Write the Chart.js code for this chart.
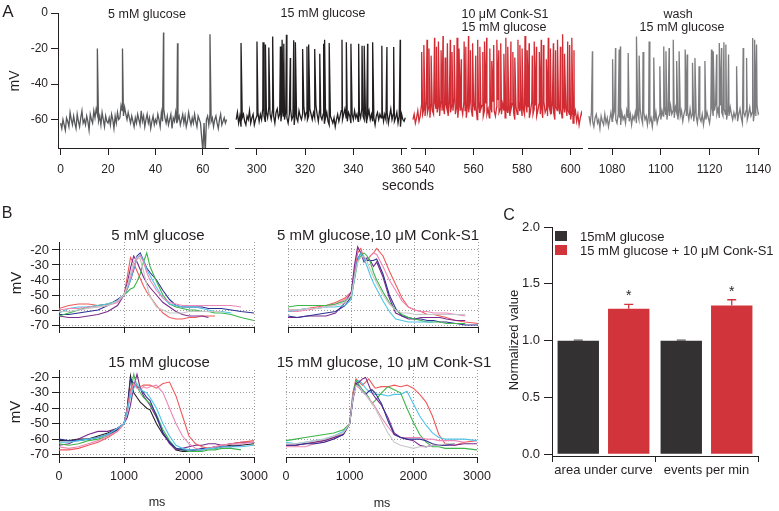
<!DOCTYPE html>
<html><head><meta charset="utf-8">
<script src="https://cdn.jsdelivr.net/npm/chart.js@4.4.1/dist/chart.umd.min.js"></script>
<style>
html,body{margin:0;padding:0;background:#fff}
#wrap{position:relative;width:779px;height:511px;overflow:hidden;font-family:'Liberation Sans',Arial,Helvetica,sans-serif;color:#231f20}
#wrap canvas{position:absolute;left:0;top:0}
.lb{position:absolute;white-space:nowrap;line-height:1;transform:translate(-50%,-50%)}
.rot{transform:translate(-50%,-50%) rotate(-90deg)}
.lg{position:absolute;white-space:nowrap;line-height:1;font-size:13px;transform:translateY(-50%)}
.sw{position:absolute;width:12px;height:10px}
</style></head><body><div id="wrap">
<canvas id="cA1" width="779" height="511"></canvas>
<canvas id="cA2" width="779" height="511"></canvas>
<canvas id="cA3" width="779" height="511"></canvas>
<canvas id="cA4" width="779" height="511"></canvas>
<canvas id="cB1" width="779" height="511"></canvas>
<canvas id="cB2" width="779" height="511"></canvas>
<canvas id="cB3" width="779" height="511"></canvas>
<canvas id="cB4" width="779" height="511"></canvas>
<canvas id="cC" width="779" height="511"></canvas>

<div class="lb" style="left:8px;top:11px;font-size:17px">A</div>
<div class="lb" style="left:147px;top:14px;font-size:12.5px">5 mM glucose</div>
<div class="lb" style="left:323px;top:13px;font-size:12.5px">15 mM glucose</div>
<div class="lb" style="left:505px;top:14px;font-size:12.5px">10 μM Conk-S1</div>
<div class="lb" style="left:504px;top:27px;font-size:12.5px">15 mM glucose</div>
<div class="lb" style="left:678px;top:14px;font-size:12.5px">wash</div>
<div class="lb" style="left:682px;top:27px;font-size:12.5px">15 mM glucose</div>
<div class="lb rot" style="left:14px;top:81px;font-size:14px">mV</div>
<div class="lb" style="left:408px;top:185px;font-size:14px">seconds</div>

<div class="lb" style="left:7px;top:213px;font-size:16px">B</div>
<div class="lb" style="left:158px;top:234px;font-size:15px">5 mM glucose</div>
<div class="lb" style="left:378px;top:234px;font-size:15px">5 mM glucose,10 μM Conk-S1</div>
<div class="lb" style="left:159px;top:361px;font-size:15px">15 mM glucose</div>
<div class="lb" style="left:384px;top:361px;font-size:15px">15 mM glucose, 10 μM Conk-S1</div>
<div class="lb rot" style="left:15px;top:283px;font-size:15px">mV</div>
<div class="lb rot" style="left:14px;top:412px;font-size:15px">mV</div>
<div class="lb" style="left:157px;top:502px;font-size:12.5px">ms</div>
<div class="lb" style="left:382px;top:503px;font-size:12.5px">ms</div>

<div class="lb" style="left:509px;top:215px;font-size:16px">C</div>
<div class="lb rot" style="left:513px;top:340px;font-size:13px">Normalized value</div>
<div id="legend"></div>
</div>
<script>
// ================= DATA =================
// ---- Panel A: membrane potential traces (mV), baseline sampled every 0.5 s, plus spike peaks ----
const aXTicks1 = [0, 20, 40, 60];
const aXTicks2 = [300, 320, 340, 360];
const aXTicks3 = [540, 560, 580, 600];
const aXTicks4 = [1080, 1100, 1120, 1140];
const aYTicks = [0, -20, -40, -60];
const aSampleStep = 0.5;

const a1Start = 0;
const a1Base = [
 -62,-65,-60,-63,-66,-59,-61,-64,-56,-60,-63,-58,-62,-65,-57,-61,-64,-59,-55,-62,-60,
 -63,-58,-61,-66,-57,-60,-62,-55,-59,-54,-57,-61,-58,-63,-56,-60,-64,-58,-61,-62,
 -59,-63,-57,-60,-65,-58,-62,-56,-60,-59,-52,-55,-58,-53,-57,-60,-56,-59,-62,-58,
 -61,-64,-59,-62,-57,-60,-63,-55,-61,-58,-64,-60,-57,-62,-59,-65,-61,-58,-63,-60,
 -62,-57,-60,-64,-56,-61,-54,-59,-62,-58,-63,-60,-57,-65,-59,-61,-56,-62,-60,-58,
 -63,-60,-57,-62,-58,-64,-61,-56,-60,-63,-59,-62,-57,-61,-64,-58,-60,-62,-70,-78,
 -62,-79,-60,-58,-63,-57,-61,-59,-64,-60,-58,-62,-65,-60,-57,-63,-61,-59,-62,-60];
const a1SpikeT = [15.5, 26.1, 43.4, 49.3, 63.0];
const a1SpikeV = [-20, -20, -11, -17, -12];

const a2Start = 291.5;
const a2Base = [
 -60,-56,-62,-58,-64,-59,-57,-61,-63,-58,-60,-55,-62,-59,-57,-63,-60,-58,-56,-61,
 -57,-60,-54,-58,-61,-56,-59,-53,-57,-60,-55,-58,-62,-56,-54,-59,-57,-61,-55,-58,
 -60,-56,-59,-62,-57,-54,-60,-58,-63,-56,-59,-61,-55,-58,-60,-57,-53,-59,-56,-60,
 -58,-54,-57,-60,-56,-59,-52,-57,-61,-55,-58,-60,-57,-62,-59,-56,-61,-63,-58,-60,
 -62,-59,-64,-60,-57,-61,-58,-55,-60,-57,-54,-59,-61,-56,-58,-62,-57,-60,-55,-59,
 -57,-61,-56,-59,-54,-58,-60,-56,-62,-58,-55,-60,-57,-61,-59,-63,-58,-56,-60,-57,
 -59,-55,-61,-57,-60,-56,-62,-58,-54,-60,-57,-61,-59,-56,-62,-58,-64,-57,-60,-61,
 -59];
const a2SpikeT = [293.5,300.1,302.6,303.6,305.0,306.6,309.8,310.5,311.2,312.3,313.9,315.3,316.0,319.0,320.8,321.5,324.0,326.1,327.7,328.1,330.0,335.3,337.1,339.0,342.2,343.6,344.5,345.9,348.0,351.8,353.9,356.7,359.4];
const a2SpikeV = [-16.9,-16.0,-16.5,-17.8,-19.4,-13.2,-18.8,-15.0,-17.3,-12.2,-25.3,-15.4,-16.5,-20.3,-18.8,-17.8,-20.3,-22.9,-17.3,-15.0,-16.9,-15.0,-16.5,-17.3,-17.3,-18.4,-18.4,-17.3,-16.5,-18.4,-19.1,-19.1,-15.0];

const a3Start = 535;
const a3Base = [
 -60,-57,-62,-59,-55,-61,-58,-52,-57,-54,-58,-50,-56,-53,-59,-51,-55,-57,-50,-54,
 -56,-52,-58,-49,-55,-53,-57,-51,-54,-58,-50,-56,-52,-55,-48,-57,-53,-59,-51,-55,
 -53,-57,-50,-55,-59,-52,-56,-49,-54,-58,-51,-55,-53,-60,-50,-56,-54,-52,-58,-55,
 -51,-57,-54,-59,-52,-56,-50,-55,-58,-53,-49,-56,-54,-57,-51,-55,-59,-52,-56,-53,
 -58,-54,-51,-56,-60,-53,-57,-50,-55,-52,-58,-54,-57,-51,-56,-53,-59,-55,-50,-57,
 -54,-52,-58,-55,-51,-57,-53,-59,-50,-56,-54,-58,-52,-55,-57,-51,-56,-60,-53,-55,
 -52,-57,-54,-59,-51,-56,-53,-58,-55,-57,-60,-56,-62,-58,-55,-61,-57,-63,-59,-56,
 -58];
const a3SpikeT = [
 538.6,539.5,540.8,541.6,542.5,543.9,544.7,545.5,546.6,547.4,
 548.3,549.2,550.4,551.1,552.0,553.2,554.0,554.9,556.1,556.8,
 557.9,558.7,559.6,560.9,561.7,562.6,563.8,564.5,565.4,566.7,
 567.5,568.3,569.6,570.4,571.2,572.5,573.3,574.1,575.4,576.2,
 577.0,578.3,579.1,580.0,581.2,582.1,582.9,584.2,585.0,585.9,
 587.1,587.9,588.8,590.0,590.8,591.7,592.9,593.8,594.6,595.8,
 596.7,597.5,598.8,599.6,600.5,601.4];
const a3SpikeV = [
 -22,-18,-15,-20,-24,-14,-19,-16,-21,-13,
 -25,-17,-15,-22,-18,-14,-20,-26,-16,-19,
 -13,-21,-17,-24,-15,-19,-22,-16,-14,-20,
 -27,-18,-15,-21,-17,-23,-14,-19,-16,-22,
 -25,-15,-18,-20,-13,-21,-17,-24,-16,-19,
 -22,-15,-18,-26,-14,-20,-17,-21,-15,-19,
 -12,-23,-16,-18,-14,-21];

const a4Start = 1070.5;
const a4Base = [
 -58,-62,-56,-61,-64,-59,-57,-62,-60,-65,-58,-61,-63,-57,-62,-59,-64,-60,-56,-61,
 -58,-55,-60,-62,-57,-59,-63,-56,-60,-58,-62,-55,-59,-61,-57,-63,-58,-60,-56,-62,
 -57,-60,-54,-59,-62,-56,-60,-58,-63,-57,-61,-59,-64,-58,-61,-56,-62,-59,-57,-60,
 -55,-58,-53,-57,-60,-54,-58,-52,-57,-55,-59,-53,-56,-60,-54,-58,-55,-61,-57,-54,
 -58,-56,-60,-54,-59,-57,-61,-55,-58,-62,-56,-59,-61,-57,-63,-58,-60,-56,-59,-62,
 -56,-53,-58,-55,-51,-57,-54,-59,-52,-56,-58,-54,-57,-60,-55,-58,-53,-57,-60,-56,
 -59,-56,-61,-57,-54,-59,-62,-56,-58,-55,-60,-57,-53,-58,-56,-61,-55,-58,-52,-57,
 -56];
const a4SpikeT = [1071.9,1080.2,1081.4,1082.9,1083.4,1086.6,1090.0,1091.1,1092.7,1095.2,1097.1,1099.6,1101.2,1102.1,1103.4,1105.1,1106.5,1107.5,1110.0,1110.8,1113.0,1114.0,1115.7,1118.1,1120.8,1121.5,1122.9,1124.0,1124.9,1125.9,1126.7,1127.8,1131.1,1133.8,1135.2,1137.7,1138.5,1139.3];
const a4SpikeV = [-21.6,-26,-19.7,-20.6,-18.8,-22.5,-13.2,-24,-22,-16,-25,-30,-18.8,-21.6,-19.7,-15,-27,-21.6,-20.6,-23.4,-28,-25.3,-30,-27,-20.6,-21.6,-23.4,-16.9,-19.7,-16.5,-17.8,-23.4,-30,-19.7,-25.3,-14.1,-15,-17.8];

// ---- Panel B: overlaid events (mV) on a common ms grid ----
const bXTicks = [0, 1000, 2000, 3000];
const bYTicks = [-20, -30, -40, -50, -60, -70];
const msGrid = [0,150,300,450,600,750,900,1000,1050,1100,1150,1200,1250,1300,1350,1400,1500,1600,1700,1800,1900,2000,2100,2200,2300,2400,2500,2650,2800,3000];

// 5 mM glucose
const b1Blue   = [-63,-63,-62,-61,-60,-57,-53,-50,-46,-40, -33,-24,-22,-27,-32,-35,-40,-47,-53,-57, -58,-58,-58,-58,-59,-59,-59,-60,-61,-62];
const b1Purple = [-64,-65,-65,-64,-63,-61,-57,-50,-42,-32, -24,-28,-33,-38,-42,-45,-50,-55,-58,-61, -63,-64,-64,-64,-65,null,null,null,null,null];
const b1Salmon = [-59,-57,-56,-56,-57,-56,-54,-50,-38,-25, -29,-34,-39,-44,-48,-51,-57,-62,-65,-66, -66,-65,-65,-64,-64,-64,null,null,null,null];
const b1Green  = [-64,-62,-60,-58,-57,-56,-54,-50,-48,-46, -45,-41,-36,-28,-22,-31,-41,-50,-56,-58, -59,-60,-60,-61,-61,-62,-62,-63,-65,-67];
const b1Cyan   = [-62,-59,-58,-58,-57,-56,-54,-50,-46,-40, -32,-26,-23,-27,-33,-37,-45,-52,-56,-57, -58,-58,-58,-59,-60,-61,-61,-62,null,null];
const b1Gray   = [-61,-61,-60,-59,-58,-57,-54,-50,-44,-36, -28,-25,-26,-34,-43,-51,-58,-60,-62,-62, -62,-61,-61,-61,-61,-61,-61,null,null,null];
const b1Pink   = [-60,-59,-59,-58,-58,-57,-55,-50,-45,-38, -31,-26,-24,-28,-35,-40,-47,-52,-55,-56, -57,-57,-57,-57,-57,-57,-57,-57,-58,null];
// 5 mM glucose, 10 uM Conk-S1
const b2Purple = [-65,-65,-64,-64,-64,-62,-55,-48,-30,-18, -22,-28,-25,-27,-31,-28,-38,-52,-62,-64, -66,-66,-65,-65,-65,-65,-66,-67,-67,null];
const b2Salmon = [-60,-60,-59,-58,-57,-55,-52,-48,-34,-22, -19,-26,-27,-24,-22,-19,-24,-34,-43,-52, -58,-60,-61,-63,-63,-64,-65,-67,-68,-69];
const b2Pink   = [-61,-61,-60,-59,-58,-56,-53,-48,-33,-18, -22,-26,-27,-24,-22,-23,-31,-40,-47,-54, -58,-60,-61,-61,-62,-62,-62,-63,-64,null];
const b2Blue   = [-64,-65,-64,-63,-62,-61,-57,-51,-38,-26, -22,-25,-27,-27,-27,-26,-36,-50,-59,-64, -65,-66,-66,-67,-67,-68,-68,-69,-70,-70];
const b2Green  = [-58,-57,-57,-57,-57,-56,-54,-51,-40,-28, -24,-22,-24,-28,-35,-40,-48,-55,-60,-63, -65,-66,-67,-68,-68,-68,-69,-69,-69,null];
const b2Cyan   = [-61,-60,-59,-59,-58,-58,-57,-53,-38,-27, -22,-26,-31,-37,-42,-46,-54,-61,-66,-67, -68,-68,-68,-68,-68,null,null,null,null,null];
const b2Gray   = [-60,-60,-59,-59,-58,-57,-55,-50,-38,-28, -25,-24,-28,-33,-38,-42,-50,-56,-60,-62, -62,-63,-63,-63,-63,-63,-63,-63,-63,null];
// 15 mM glucose
const b3Black  = [-61,-61,-60,-60,-58,-56,-53,-50,-40,-19, -30,-33,-36,-38,-40,-41,-50,-57,-62,-67, -68,-68,-67,-67,-66,-66,-65,-64,-64,-63];
const b3Purple = [-64,-63,-60,-57,-55,-55,-53,-50,-46,-38, -26,-18,-27,-32,-35,-38,-46,-56,-63,-67, -66,-65,-64,-64,-63,-63,-64,-63,-62,-62];
const b3Green  = [-63,-64,-63,-61,-60,-58,-54,-50,-42,-30, -18,-26,-30,-33,-35,-37,-44,-54,-61,-66, -67,-68,-68,-68,-67,-67,-66,-66,-67,null];
const b3Blue   = [-60,-61,-61,-60,-59,-57,-54,-50,-40,-21, -24,-26,-27,-30,-33,-35,-45,-56,-62,-66, -67,-67,-67,-66,-66,-65,-65,-65,-64,null];
const b3Cyan   = [-62,-62,-61,-60,-59,-57,-53,-50,-42,-32, -27,-24,-28,-29,-30,-33,-40,-50,-58,-64, -66,-67,-67,-67,-66,-66,-65,-65,-65,-64];
const b3Salmon = [-67,-67,-66,-64,-62,-59,-55,-50,-40,-28, -24,-26,-26,-25,-25,-25,-27,-24,-23,-32, -45,-58,-63,-65,-66,-65,-64,-63,-62,-61];
const b3Pink   = [-65,-66,-65,-63,-61,-58,-55,-50,-42,-30, -24,-27,-28,-26,-27,-26,-25,-30,-40,-50, -58,-63,-66,-67,-66,-65,-64,-63,-63,-62];
// 15 mM glucose, 10 uM Conk-S1
const b4Salmon = [-64,-64,-63,-62,-61,-59,-56,-50,-30,-21, -23,-25,-23,-21,-24,-27,-26,-26,-25,-26, -25,-27,-31,-36,-45,-57,-63,-64,-62,-61];
const b4Cyan   = [-62,-63,-62,-61,-60,-58,-55,-50,-32,-24, -22,-24,-27,-29,-30,-31,-31,-32,-31,-31, -29,-37,-45,-51,-56,-59,-60,-60,-60,-61];
const b4Green  = [-61,-60,-59,-58,-57,-56,-54,-50,-32,-22, -25,-28,-30,-33,-37,-35,-30,-26,-28,-30, -40,-49,-57,-62,-65,-65,-66,-66,-66,-67];
const b4Purple = [-64,-64,-63,-62,-61,-59,-57,-50,-35,-24, -23,-21,-20,-25,-30,-33,-38,-46,-56,-59, -60,-61,-64,-65,-64,-64,-64,-64,-63,-63];
const b4Blue   = [-64,-64,-63,-63,-62,-60,-57,-50,-34,-24, -26,-29,-31,-29,-28,-30,-37,-48,-57,-59, -60,-60,-60,-61,-63,-64,-64,-63,null,null];
const b4Gray   = [-63,-63,-62,-61,-60,-58,-56,-50,-34,-25, -26,-29,-31,-34,-37,-40,-48,-56,-62,-64, -65,-66,-65,-65,-64,-64,-63,-63,null,null];
const b4Pink   = [-65,-65,-65,-63,-62,-60,-57,-50,-32,-25, -27,-29,-31,-34,-36,-39,-46,-52,-57,-59, -59,-59,-59,-60,-60,-61,-61,-61,-62,null];

// ---- Panel C: normalized bars ----
const cCategories = ['area under curve', 'events per min'];
const cSeriesNames = ['15mM glucose', '15 mM glucose + 10 μM Conk-S1'];
const cCtrl = [1.0, 1.0];
const cCtrlErr = [0.004, 0.004];
const cConk = [1.28, 1.31];
const cConkErr = [0.04, 0.05];
const cSig = ['*', '*'];
const cYTicks = [0, 0.5, 1.0, 1.5, 2.0];

// ================= STYLE / CHARTS =================
const FONT = "'Liberation Sans', Arial, Helvetica, sans-serif";
const AX = '#231f20';
const GRID = '#9b9b9b';
Chart.defaults.font.family = FONT;
Chart.defaults.color = AX;
Chart.defaults.animation = false;
Chart.defaults.responsive = false;
Chart.defaults.events = [];
Chart.defaults.plugins.legend.display = false;
Chart.defaults.plugins.tooltip.enabled = false;

const W = 779, H = 511;
const fixedTicks = vals => s => { s.ticks = vals.map(v => ({ value: v })); };
const plain = v => String(v);

function make(id, area, yw, xh, cfg) {
  const o = cfg.options;
  o.layout = { autoPadding: false, padding: { left: area[0] - yw, top: area[1], right: W - area[2], bottom: H - area[3] - xh } };
  o.scales.x.afterFit = s => { s.height = xh; };
  o.scales.y.afterFit = s => { s.width = yw; };
  return new Chart(document.getElementById(id), cfg);
}
function lineDS(data, color, w) {
  return { data, borderColor: color, borderWidth: w, pointRadius: 0, tension: 0, fill: false, spanGaps: false };
}
function tracePoints(start, base, spikeT, spikeV) {
  const pts = base.map((v, i) => ({ x: start + i * aSampleStep, y: v }));
  spikeT.forEach((t, i) => pts.push({ x: t, y: spikeV[i] }));
  pts.sort((a, b) => a.x - b.x);
  return pts;
}

function aChart(id, area, xr, xt, pts, color, showY) {
  const yw = showY ? 58 : 0;
  return make(id, area, yw, 40, {
    type: 'line',
    data: { datasets: [lineDS(pts, color, 1.3)] },
    options: {
      scales: {
        x: { type: 'linear', min: xr[0], max: xr[1], afterBuildTicks: fixedTicks(xt),
             grid: { display: true, drawOnChartArea: false, drawTicks: true, tickLength: 7, color: AX, tickColor: AX },
             border: { display: true, color: AX, width: 1 },
             ticks: { font: { size: 12 }, color: AX, padding: 7, maxRotation: 0, autoSkip: false, callback: plain } },
        y: { type: 'linear', min: -76, max: 0, display: showY, afterBuildTicks: fixedTicks(aYTicks),
             grid: { display: true, drawOnChartArea: false, drawTicks: true, tickLength: 7, color: AX, tickColor: AX },
             border: { display: true, color: AX, width: 1 },
             ticks: { font: { size: 12 }, color: AX, padding: 3, autoSkip: false, callback: plain } }
      }
    }
  });
}

aChart('cA1', [58, 13, 228, 148], [-1.1, 70.6], aXTicks1, tracePoints(a1Start, a1Base, a1SpikeT, a1SpikeV), '#58595b', true);
aChart('cA2', [235, 13, 406, 148], [291.0, 361.8], aXTicks2, tracePoints(a2Start, a2Base, a2SpikeT, a2SpikeV), '#231f20', false);
aChart('cA3', [411, 13, 582, 148], [534.2, 604.7], aXTicks3, tracePoints(a3Start, a3Base, a3SpikeT, a3SpikeV), '#d12b33', false);
aChart('cA4', [588, 13, 759, 148], [1070.1, 1140.3], aXTicks4, tracePoints(a4Start, a4Base, a4SpikeT, a4SpikeV), '#7d7d7f', false);

const COL = { blue: '#2e3192', purple: '#7b2a8b', salmon: '#f05a5b', green: '#3db54a', cyan: '#4fc3e8', gray: '#c6c6c6', pink: '#ec87b6', black: '#231f20' };

function bChart(id, area, yr, traces, leftCol, bottomRow) {
  const yw = leftCol ? 50 : 0;
  return make(id, area, yw, 40, {
    type: 'line',
    data: { datasets: traces.map(([vals, c]) => lineDS(msGrid.map((x, i) => ({ x, y: vals[i] })), COL[c], 1.1)) },
    options: {
      scales: {
        x: { type: 'linear', min: 0, max: 3000, afterBuildTicks: fixedTicks(bXTicks),
             grid: { display: true, drawOnChartArea: true, color: GRID, lineWidth: 1, drawTicks: true, tickLength: 6, tickColor: AX },
             border: { display: true, color: AX, width: 1, dash: [1, 2] },
             ticks: { display: bottomRow, font: { size: 12.5 }, color: AX, padding: 6, maxRotation: 0, autoSkip: false, callback: plain } },
        y: { type: 'linear', min: yr[0], max: yr[1], afterBuildTicks: fixedTicks(bYTicks),
             grid: { display: true, drawOnChartArea: true, color: GRID, lineWidth: 1, drawTicks: leftCol, tickLength: 7, tickColor: AX },
             border: { display: leftCol, color: AX, width: 1, dash: [1, 2] },
             ticks: { display: leftCol, font: { size: 13 }, color: AX, padding: 3, autoSkip: false, callback: plain } }
      }
    }
  });
}

bChart('cB1', [59, 242, 254, 327], [-71.3, -14.7],
  [[b1Gray,'gray'],[b1Pink,'pink'],[b1Cyan,'cyan'],[b1Green,'green'],[b1Blue,'blue'],[b1Purple,'purple'],[b1Salmon,'salmon']], true, false);
bChart('cB2', [288, 242, 478, 327], [-71.3, -14.7],
  [[b2Gray,'gray'],[b2Cyan,'cyan'],[b2Green,'green'],[b2Blue,'blue'],[b2Purple,'purple'],[b2Pink,'pink'],[b2Salmon,'salmon']], false, false);
bChart('cB3', [59, 370, 254, 457], [-71.6, -15.2],
  [[b3Cyan,'cyan'],[b3Pink,'pink'],[b3Salmon,'salmon'],[b3Blue,'blue'],[b3Green,'green'],[b3Purple,'purple'],[b3Black,'black']], true, true);
bChart('cB4', [286, 370, 477, 457], [-71.6, -15.2],
  [[b4Gray,'gray'],[b4Blue,'blue'],[b4Purple,'purple'],[b4Pink,'pink'],[b4Green,'green'],[b4Cyan,'cyan'],[b4Salmon,'salmon']], false, true);

// ---- Panel C ----
const C_DARK = '#343132', C_RED = '#d1343b';
const errPlugin = {
  id: 'errbars',
  afterDatasetsDraw(chart) {
    const ctx = chart.ctx, ys = chart.scales.y;
    chart.data.datasets.forEach((ds, di) => {
      const meta = chart.getDatasetMeta(di);
      meta.data.forEach((bar, i) => {
        const yTop = ys.getPixelForValue(ds.data[i] + ds.err[i]);
        ctx.save();
        ctx.strokeStyle = ds.errColor; ctx.lineWidth = 1.3;
        ctx.beginPath();
        ctx.moveTo(bar.x, bar.y); ctx.lineTo(bar.x, yTop);
        ctx.moveTo(bar.x - 4.5, yTop); ctx.lineTo(bar.x + 4.5, yTop);
        ctx.stroke();
        if (ds.sig && ds.sig[i]) {
          ctx.fillStyle = AX; ctx.font = '14px ' + FONT; ctx.textAlign = 'center'; ctx.textBaseline = 'alphabetic';
          ctx.fillText(ds.sig[i], bar.x, yTop - 4);
        }
        ctx.restore();
      });
    });
  }
};
make('cC', [552, 227, 758, 456], 60, 40, {
  type: 'bar',
  data: { labels: cCategories, datasets: [
    { label: cSeriesNames[0], data: cCtrl, err: cCtrlErr, errColor: '#5a5a5a', backgroundColor: C_DARK, categoryPercentage: 0.98, barPercentage: 0.82 },
    { label: cSeriesNames[1], data: cConk, err: cConkErr, errColor: C_RED, sig: cSig, backgroundColor: C_RED, categoryPercentage: 0.98, barPercentage: 0.82 }
  ] },
  options: {
    scales: {
      x: { grid: { display: true, offset: true, drawOnChartArea: false, drawTicks: true, tickLength: 6, color: AX, tickColor: AX },
           border: { display: true, color: AX, width: 1 },
           ticks: { font: { size: 13 }, color: AX, padding: 1, maxRotation: 0, autoSkip: false } },
      y: { type: 'linear', min: -0.015, max: 2.0, afterBuildTicks: fixedTicks(cYTicks),
           grid: { display: true, drawOnChartArea: false, drawTicks: true, tickLength: 8, color: AX, tickColor: AX },
           border: { display: true, color: AX, width: 1 },
           ticks: { font: { size: 13 }, color: AX, padding: 4, autoSkip: false, callback: v => Number(v).toFixed(1) } }
    }
  },
  plugins: [errPlugin]
});

// legend (HTML, from the series names)
const lg = document.getElementById('legend');
[[cSeriesNames[0], C_DARK, 231], [cSeriesNames[1], C_RED, 245]].forEach(([name, col, top]) => {
  const sw = document.createElement('div'); sw.className = 'sw';
  sw.style.left = '555px'; sw.style.top = top + 'px'; sw.style.background = col; lg.appendChild(sw);
  const tx = document.createElement('div'); tx.className = 'lg';
  tx.style.left = '580px'; tx.style.top = (top + 5) + 'px'; tx.textContent = name; lg.appendChild(tx);
});
</script>
</body></html>
